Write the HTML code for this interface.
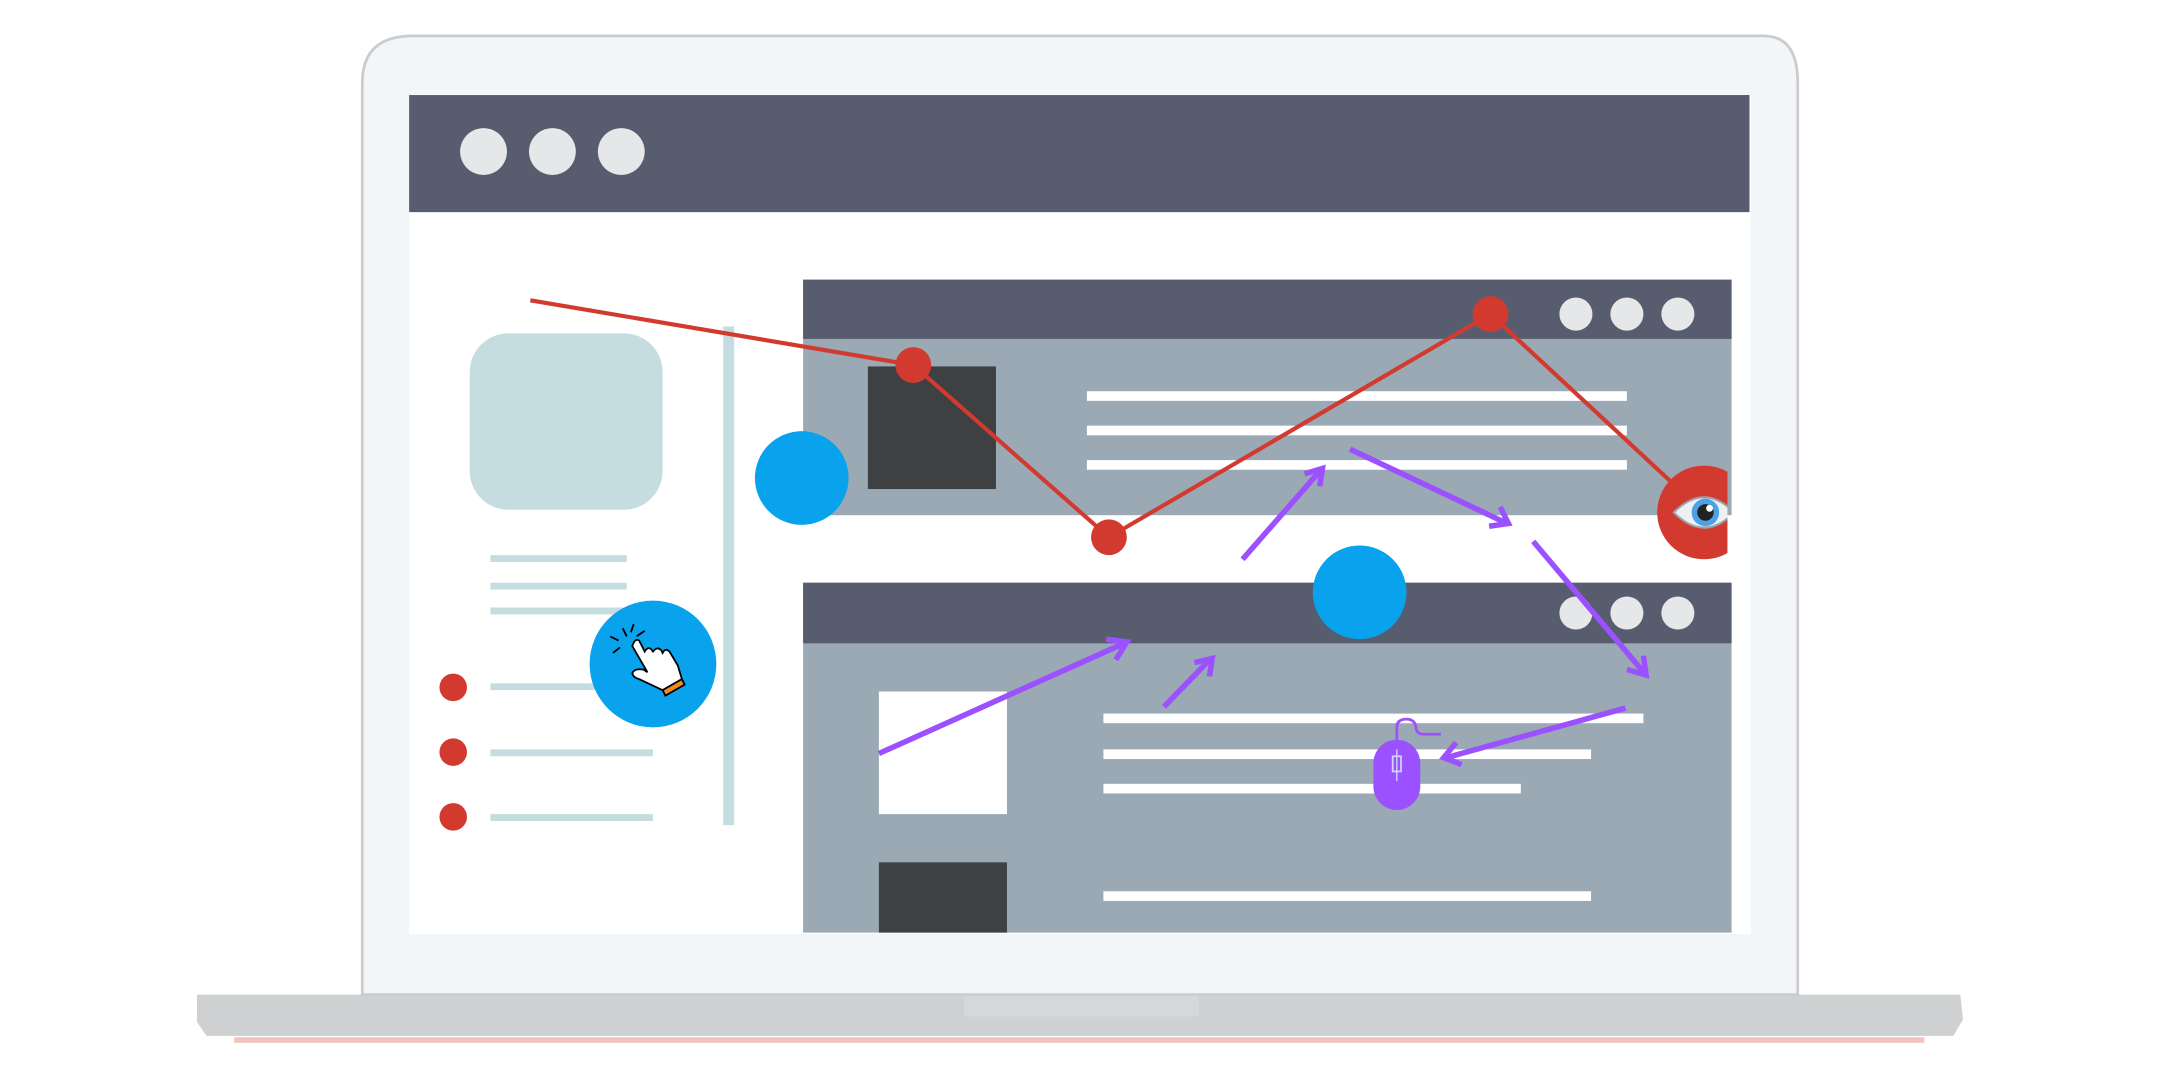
<!DOCTYPE html>
<html><head><meta charset="utf-8"><style>html,body{margin:0;padding:0;background:#fff}svg{display:block}</style></head>
<body>
<svg width="2160" height="1080" viewBox="0 0 1568 784" xmlns="http://www.w3.org/2000/svg">
<defs><clipPath id="scr"><rect x="297" y="69" width="957" height="609"/></clipPath></defs>
<path d="M143 722 L1423 722 L1425 740 L1418 752 L150 752 L143 742 Z" fill="#cfd0d2"/>
<rect x="170" y="753" width="1227" height="4" fill="#f0c4bc"/>
<rect x="700" y="722" width="170" height="16" fill="#d6d7d9"/>
<path d="M263 722 L263 60 Q263 26 300 26 L1280 26 Q1305 26 1305 60 L1305 722 Z" fill="#f3f6f9" stroke="#cbcccf" stroke-width="2"/>
<rect x="297" y="69" width="974" height="609" fill="#fff"/>
<rect x="297" y="69" width="973" height="85" fill="#575d6e"/>
<g fill="#e6e7e8"><circle cx="351" cy="110" r="17"/><circle cx="401" cy="110" r="17"/><circle cx="451" cy="110" r="17"/></g>
<rect x="341" y="242" width="140" height="128" rx="28" fill="#c5dde1"/>
<rect x="525" y="237" width="8" height="362" fill="#c5dde1"/>
<g fill="#c5dde1">
<rect x="356" y="403" width="99" height="5"/><rect x="356" y="423" width="99" height="5"/><rect x="356" y="441" width="99" height="5"/>
<rect x="356" y="496" width="118" height="5"/><rect x="356" y="544" width="118" height="5"/><rect x="356" y="591" width="118" height="5"/>
</g>
<g fill="#d23a2f"><circle cx="329" cy="499" r="10"/><circle cx="329" cy="546" r="10"/><circle cx="329" cy="593" r="10"/></g>
<rect x="583" y="203" width="674" height="171" fill="#9aa9b3"/>
<rect x="583" y="203" width="674" height="43" fill="#575d6e"/>
<g fill="#e6e7e8"><circle cx="1144" cy="228" r="12"/><circle cx="1181" cy="228" r="12"/><circle cx="1218" cy="228" r="12"/></g>
<rect x="630" y="266" width="93" height="89" fill="#3f4042"/>
<g fill="#fff"><rect x="789" y="284" width="392" height="7"/><rect x="789" y="309" width="392" height="7"/><rect x="789" y="334" width="392" height="7"/></g>
<rect x="583" y="423" width="674" height="254" fill="#9aa9b3"/>
<rect x="583" y="423" width="674" height="44" fill="#575d6e"/>
<g fill="#e6e7e8"><circle cx="1144" cy="445" r="12"/><circle cx="1181" cy="445" r="12"/><circle cx="1218" cy="445" r="12"/></g>
<rect x="638" y="502" width="93" height="89" fill="#fff"/>
<rect x="638" y="626" width="93" height="51" fill="#3f4042"/>
<g fill="#fff"><rect x="801" y="518" width="392" height="7"/><rect x="801" y="544" width="354" height="7"/><rect x="801" y="569" width="303" height="7"/><rect x="801" y="647" width="354" height="7"/></g>
<g fill="#08a2ed"><circle cx="582" cy="347" r="34"/><circle cx="987" cy="430" r="34"/><circle cx="474" cy="482" r="46"/></g>
<g stroke="#000" stroke-width="1.3">
<path d="M459 469 L470 488 L467 486 Q460 485 459 489 Q460 492 464 493 L481 501 L495 493 L492 483 L486 473 Q483 470 481 474 L480 472 Q477 469 474 473 Q471 468 468 473 L464 465 Q461 463 459 469 Z" fill="#fff"/>
<path d="M481 501 L495 493 L497 497 L483 505 Z" fill="#f08a1c"/>
<path d="M455 462 L452 456 M449 465 L443 462 M450 470 L445 474 M458 459 L460 453 M462 462 L468 458" fill="none"/>
</g>
<polyline points="385,218 663,265 805,390 1082,228 1237,372" fill="none" stroke="#d23a2f" stroke-width="3"/>
<g fill="#d23a2f"><circle cx="663" cy="265" r="13"/><circle cx="805" cy="390" r="13"/><circle cx="1082" cy="228" r="13"/></g>
<g clip-path="url(#scr)">
<circle cx="1237" cy="372" r="34" fill="#d23a2f"/>
<path d="M1215 372 Q1237 350 1259 372 Q1237 394 1215 372 Z" fill="#eef1f4" stroke="#9aa3aa" stroke-width="1.5"/>
<circle cx="1238" cy="372" r="10" fill="#4aa3e6"/>
<circle cx="1238" cy="372" r="6" fill="#222"/>
<circle cx="1241" cy="369" r="2.5" fill="#fff"/>
</g>
<g stroke="#9b51ff" stroke-width="4" fill="none" stroke-linecap="butt">
<line x1="638" y1="547" x2="816" y2="467"/><polyline points="803,464 818,466 810,479"/>
<line x1="845" y1="513" x2="879" y2="478"/><polyline points="867,481 880,478 878,491"/>
<line x1="902" y1="406" x2="959" y2="341"/><polyline points="947,344 960,340 958,353"/>
<line x1="980" y1="326" x2="1094" y2="380"/><polyline points="1081,382 1095,380 1089,368"/>
<line x1="1113" y1="393" x2="1194" y2="489"/><polyline points="1181,486 1195,490 1193,476"/>
<line x1="1180" y1="514" x2="1050" y2="550"/><polyline points="1057,539 1048,550 1061,555"/>
</g>
<rect x="997" y="537" width="34" height="51" rx="17" fill="#9b51ff"/>
<path d="M1014 537 L1014 528 Q1014 522 1021 522 Q1027 522 1028 528 Q1028 533 1034 533 L1046 533" fill="none" stroke="#9b51ff" stroke-width="2"/>
<rect x="1011" y="549" width="6" height="11" fill="none" stroke="#cfd3ff" stroke-width="1.3"/>
<line x1="1014" y1="544" x2="1014" y2="567" stroke="#cfd3ff" stroke-width="1"/>
</svg>
</body></html>
